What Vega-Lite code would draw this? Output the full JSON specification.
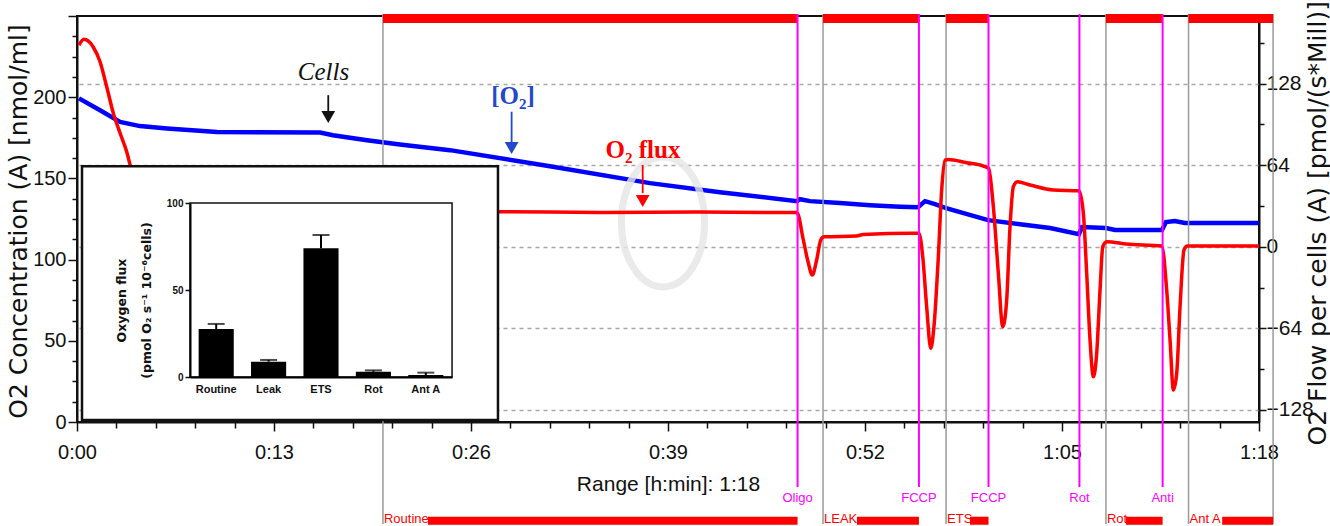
{
  "$schema": "https://vega.github.io/schema/vega-lite/v6.json",
  "width": 1182,
  "height": 406,
  "autosize": {"type": "none"},
  "padding": {"left": 77, "top": 16, "right": 71, "bottom": 104},
  "background": "#ffffff",
  "config": {
    "view": {"stroke": "#111111", "strokeWidth": 2},
    "font": "Liberation Sans",
    "axis": {"domainColor": "#111111", "domainWidth": 2, "tickColor": "#111111", "tickWidth": 1.5, "labelColor": "#111111", "titleColor": "#111111", "grid": false, "labelFont": "Liberation Sans", "titleFontWeight": "normal"}
  },
  "datasets": {
    "o2": [
      {"t": 0.13, "c": 199.3}, {"t": 1.52, "c": 192}, {"t": 2.84, "c": 184.8}, {"t": 4.16, "c": 182.2},
      {"t": 5.94, "c": 180.7}, {"t": 9.24, "c": 178.6}, {"t": 16.04, "c": 178.2}, {"t": 16.89, "c": 176.6},
      {"t": 19.14, "c": 173.5}, {"t": 21.31, "c": 170.9}, {"t": 24.61, "c": 167.4}, {"t": 31.21, "c": 157.5},
      {"t": 37.81, "c": 147.1}, {"t": 42.43, "c": 141.5}, {"t": 47.51, "c": 136}, {"t": 47.71, "c": 137.2},
      {"t": 48.37, "c": 136}, {"t": 50.35, "c": 134.8}, {"t": 52.33, "c": 133.5}, {"t": 54.31, "c": 132.6},
      {"t": 55.5, "c": 132.3}, {"t": 55.96, "c": 136}, {"t": 56.62, "c": 134.2}, {"t": 57.35, "c": 131.7},
      {"t": 60.12, "c": 124.3}, {"t": 62.23, "c": 121.8}, {"t": 64.21, "c": 119.4}, {"t": 66.12, "c": 115.7},
      {"t": 66.32, "c": 120}, {"t": 67.9, "c": 119.4}, {"t": 68.5, "c": 118.2}, {"t": 71.6, "c": 118.2},
      {"t": 71.86, "c": 123.1}, {"t": 72.45, "c": 123.7}, {"t": 73.11, "c": 122.5}, {"t": 78, "c": 122.5}
    ],
    "flux": [
      {"t": 0.13, "v": 158.2}, {"t": 0.46, "v": 162.7}, {"t": 1.06, "v": 156.9}, {"t": 1.52, "v": 145.1},
      {"t": 1.96, "v": 125.5}, {"t": 2.4, "v": 104.6}, {"t": 2.84, "v": 89.2}, {"t": 3.28, "v": 74.5},
      {"t": 3.54, "v": 62.7}, {"t": 4.75, "v": 36.6}, {"t": 7.85, "v": 13}, {"t": 14.85, "v": 13},
      {"t": 16.89, "v": 25}, {"t": 19.86, "v": 27}, {"t": 27.58, "v": 27.2}, {"t": 28.05, "v": 27.5},
      {"t": 34.51, "v": 26.8}, {"t": 41.11, "v": 27.2}, {"t": 47.51, "v": 26.8}, {"t": 47.93, "v": 5.3},
      {"t": 48.26, "v": -12.8}, {"t": 48.52, "v": -22.2}, {"t": 48.81, "v": -10.4}, {"t": 49.08, "v": 5.3},
      {"t": 49.3, "v": 7.8}, {"t": 51.45, "v": 8.4}, {"t": 51.87, "v": 9.6}, {"t": 55.17, "v": 10.5},
      {"t": 55.56, "v": 10.5}, {"t": 55.81, "v": -7.8}, {"t": 56.07, "v": -47.1}, {"t": 56.34, "v": -79.7},
      {"t": 56.55, "v": -62.7}, {"t": 56.84, "v": -7.8}, {"t": 57.06, "v": 44.5}, {"t": 57.28, "v": 68},
      {"t": 57.5, "v": 68.5}, {"t": 58.71, "v": 65.9}, {"t": 59.81, "v": 63.3}, {"t": 60.16, "v": 61.5},
      {"t": 60.47, "v": 31.4}, {"t": 60.8, "v": -20.9}, {"t": 61.09, "v": -62.7}, {"t": 61.35, "v": -41.8},
      {"t": 61.57, "v": 15.7}, {"t": 61.79, "v": 47.1}, {"t": 62.05, "v": 51}, {"t": 62.89, "v": 48.4},
      {"t": 64.43, "v": 44.5}, {"t": 66.12, "v": 43.9}, {"t": 66.41, "v": 26.2}, {"t": 66.63, "v": -20.9},
      {"t": 66.85, "v": -73.2}, {"t": 67.07, "v": -102}, {"t": 67.29, "v": -83.6}, {"t": 67.51, "v": -34},
      {"t": 67.69, "v": 0}, {"t": 67.95, "v": 3.9}, {"t": 69.27, "v": 2.1}, {"t": 71.58, "v": 0.5},
      {"t": 71.91, "v": -34}, {"t": 72.13, "v": -73.2}, {"t": 72.35, "v": -112.4}, {"t": 72.57, "v": -99.3},
      {"t": 72.79, "v": -47.1}, {"t": 73.05, "v": -2.6}, {"t": 73.27, "v": 0.5}, {"t": 78, "v": 0.5}
    ],
    "phases": [
      {"phase": "Routine", "t": 20.19, "t2": 47.55, "tb": 23.16},
      {"phase": "LEAK", "t": 49.23, "t2": 55.56, "tb": 51.47},
      {"phase": "ETS", "t": 57.35, "t2": 60.15, "tb": 58.93},
      {"phase": "Rot", "t": 67.9, "t2": 71.64, "tb": 69.22},
      {"phase": "Ant A", "t": 73.35, "t2": 78.93, "tb": 75.57}
    ],
    "bounds": [{"t": 20.19}, {"t": 49.23}, {"t": 57.35}, {"t": 67.9}, {"t": 73.35}, {"t": 78.93}],
    "events": [
      {"event": "Oligo", "t": 47.55}, {"event": "FCCP", "t": 55.56}, {"event": "FCCP", "t": 60.15},
      {"event": "Rot", "t": 66.15}, {"event": "Anti", "t": 71.64}
    ],
    "notes": [
      {"label": "Cells", "kind": "cells", "t": 16.27, "v": 137.4},
      {"label": "[O₂]", "kind": "o2", "t": 28.77, "v": 118.2},
      {"label": "O₂ flux", "kind": "flux", "t": 37.35, "v": 75.9}
    ],
    "arrows": [
      {"kind": "cells", "t": 16.58, "v1": 118.9, "v2": 105.6, "vh": 101.7},
      {"kind": "o2", "t": 28.68, "v1": 105.9, "v2": 81.1, "vh": 77.4},
      {"kind": "flux", "t": 37.33, "v1": 64.1, "v2": 42, "vh": 35.9}
    ],
    "inset": [
      {"cat": "Routine", "mean": 27.6, "hi": 30.5},
      {"cat": "Leak", "mean": 8.8, "hi": 9.8},
      {"cat": "ETS", "mean": 74, "hi": 81.6},
      {"cat": "Rot", "mean": 3, "hi": 3.8},
      {"cat": "Ant A", "mean": 1.1, "hi": 2.5}
    ]
  },
  "resolve": {"scale": {"x": "independent", "y": "independent", "color": "independent"}, "axis": {"x": "independent", "y": "independent"}},
  "layer": [
    {
      "data": {"name": "o2"},
      "mark": {"type": "line", "color": "#0000ff", "strokeWidth": 4.5},
      "encoding": {
        "x": {
          "field": "t", "type": "quantitative",
          "scale": {"domain": [0, 78], "nice": false, "zero": false},
          "axis": {
            "orient": "bottom",
            "values": [0, 2.6, 5.2, 7.8, 10.4, 13, 15.6, 18.2, 20.8, 23.4, 26, 28.6, 31.2, 33.8, 36.4, 39, 41.6, 44.2, 46.8, 49.4, 52, 54.6, 57.2, 59.8, 62.4, 65, 67.6, 70.2, 72.8, 75.4, 78],
            "labelExpr": "datum.value % 13 === 0 ? (floor(datum.value / 60) + ':' + (round(datum.value % 60) < 10 ? '0' : '') + round(datum.value % 60)) : ''",
            "tickSize": {"condition": {"test": "datum.value % 13 === 0", "value": 9}, "value": 6},
            "labelFontSize": 20, "labelPadding": 11, "labelFlush": false, "labelOverlap": false,
            "title": "Range [h:min]: 1:18",
            "titleFont": "Liberation Sans", "titleFontSize": 21,
            "titleX": 591, "titleY": 62, "titleAlign": "center", "titleBaseline": "middle"
          }
        },
        "y": {
          "field": "c", "type": "quantitative",
          "scale": {"domain": [0, 250], "nice": false, "zero": false},
          "axis": {
            "orient": "left",
            "values": [0, 12.5, 25, 37.5, 50, 62.5, 75, 87.5, 100, 112.5, 125, 137.5, 150, 162.5, 175, 187.5, 200, 212.5, 225, 237.5, 250],
            "labelExpr": "datum.value % 50 === 0 && datum.value < 250 ? datum.label : ''",
            "tickSize": {"condition": {"test": "datum.value % 50 === 0", "value": 9}, "value": 5},
            "labelFontSize": 20, "labelPadding": 2, "labelFlush": false, "labelOverlap": false,
            "title": "O2 Concentration (A) [nmol/ml]",
            "titleFont": "DejaVu Sans", "titleFontSize": 25, "titleAngle": 270,
            "titleX": -59, "titleY": 205, "titleAlign": "center", "titleBaseline": "middle"
          }
        }
      }
    },
    {
      "layer": [
        {
          "data": {"values": [{"t": 38.67, "v": 19.4}]},
          "mark": {"type": "point", "shape": "M0,-1A0.64,1,0,1,1,0,1A0.64,1,0,1,1,0,-1Z", "filled": false, "color": "#e6e6e6", "strokeWidth": 7, "size": 16900, "opacity": 0.8},
          "encoding": {
            "x": {"field": "t", "type": "quantitative", "scale": {"domain": [0, 78], "nice": false, "zero": false}, "axis": null},
            "y": {"field": "v", "type": "quantitative", "scale": {"domain": [-137.5, 181], "nice": false, "zero": false}}
          }
        },
        {
          "data": {"name": "bounds"},
          "mark": {"type": "rule", "color": "#9a9a9a", "strokeWidth": 1.5},
          "encoding": {
            "x": {"field": "t", "type": "quantitative", "scale": {"domain": [0, 78], "nice": false, "zero": false}, "axis": null},
            "y": {"datum": 182.6, "type": "quantitative", "scale": {"domain": [-137.5, 181], "nice": false, "zero": false}},
            "y2": {"datum": -217.5}
          }
        },
        {
          "data": {"name": "flux"},
          "mark": {"type": "line", "color": "#ff0000", "strokeWidth": 3.5, "interpolate": "monotone"},
          "encoding": {
            "x": {"field": "t", "type": "quantitative", "scale": {"domain": [0, 78], "nice": false, "zero": false}, "axis": null},
            "y": {
              "field": "v", "type": "quantitative",
              "scale": {"domain": [-137.5, 181], "nice": false, "zero": false},
              "axis": {
                "orient": "right",
                "values": [-128, -112, -96, -80, -64, -48, -32, -16, 0, 16, 32, 48, 64, 80, 96, 112, 128, 144, 160, 176],
                "labelExpr": "datum.value % 64 === 0 ? datum.label : ''",
                "tickSize": {"condition": {"test": "datum.value % 64 === 0", "value": 7}, "value": 5},
                "labelFontSize": 21, "labelPadding": 0, "labelFlush": false, "labelOverlap": false,
                "grid": true, "gridColor": "#a8a8a8", "gridDash": [4, 4], "gridWidth": 1.5,
                "gridOpacity": {"condition": {"test": "datum.value % 64 === 0", "value": 1}, "value": 0},
                "title": "O2 Flow per cells (A) [pmol/(s*Mill)]",
                "titleFont": "DejaVu Sans", "titleFontSize": 25, "titleAngle": 270,
                "titleX": 58, "titleY": 429, "titleAlign": "left", "titleBaseline": "middle"
              }
            }
          }
        },
        {
          "data": {"name": "phases"},
          "mark": {"type": "rect", "color": "#ff0000"},
          "encoding": {
            "x": {"field": "t", "type": "quantitative", "scale": {"domain": [0, 78], "nice": false, "zero": false}, "axis": null},
            "x2": {"field": "t2"},
            "y": {"datum": 182.6, "type": "quantitative", "scale": {"domain": [-137.5, 181], "nice": false, "zero": false}},
            "y2": {"datum": 175.5}
          }
        },
        {
          "data": {"name": "phases"},
          "mark": {"type": "rect", "color": "#ff0000"},
          "encoding": {
            "x": {"field": "tb", "type": "quantitative", "scale": {"domain": [0, 78], "nice": false, "zero": false}, "axis": null},
            "x2": {"field": "t2"},
            "y": {"datum": -211.8, "type": "quantitative", "scale": {"domain": [-137.5, 181], "nice": false, "zero": false}},
            "y2": {"datum": -218.1}
          }
        },
        {
          "data": {"name": "phases"},
          "mark": {"type": "text", "color": "#ff0000", "font": "Liberation Sans", "fontSize": 13, "align": "left", "baseline": "alphabetic", "dx": 1},
          "encoding": {
            "x": {"field": "t", "type": "quantitative", "scale": {"domain": [0, 78], "nice": false, "zero": false}, "axis": null},
            "y": {"datum": -216.7, "type": "quantitative", "scale": {"domain": [-137.5, 181], "nice": false, "zero": false}},
            "text": {"field": "phase"}
          }
        },
        {
          "data": {"name": "events"},
          "mark": {"type": "rule", "color": "#ff00ff", "strokeWidth": 2},
          "encoding": {
            "x": {"field": "t", "type": "quantitative", "scale": {"domain": [0, 78], "nice": false, "zero": false}, "axis": null},
            "y": {"datum": 182.6, "type": "quantitative", "scale": {"domain": [-137.5, 181], "nice": false, "zero": false}},
            "y2": {"datum": -188.5}
          }
        },
        {
          "data": {"name": "events"},
          "mark": {"type": "text", "color": "#ff00ff", "font": "Liberation Sans", "fontSize": 13, "align": "center", "baseline": "middle"},
          "encoding": {
            "x": {"field": "t", "type": "quantitative", "scale": {"domain": [0, 78], "nice": false, "zero": false}, "axis": null},
            "y": {"datum": -197.1, "type": "quantitative", "scale": {"domain": [-137.5, 181], "nice": false, "zero": false}},
            "text": {"field": "event"}
          }
        },
        {
          "data": {"name": "arrows"},
          "mark": {"type": "rule", "strokeWidth": 1.8},
          "encoding": {
            "x": {"field": "t", "type": "quantitative", "scale": {"domain": [0, 78], "nice": false, "zero": false}, "axis": null},
            "y": {"field": "v1", "type": "quantitative", "scale": {"domain": [-137.5, 181], "nice": false, "zero": false}},
            "y2": {"field": "v2"},
            "color": {"field": "kind", "type": "nominal", "scale": {"domain": ["cells", "o2", "flux"], "range": ["#111111", "#2248cc", "#ff0000"]}, "legend": null}
          }
        },
        {
          "data": {"name": "arrows"},
          "mark": {"type": "point", "shape": "triangle-down", "filled": true, "size": 190, "opacity": 1},
          "encoding": {
            "x": {"field": "t", "type": "quantitative", "scale": {"domain": [0, 78], "nice": false, "zero": false}, "axis": null},
            "y": {"field": "vh", "type": "quantitative", "scale": {"domain": [-137.5, 181], "nice": false, "zero": false}},
            "color": {"field": "kind", "type": "nominal", "scale": {"domain": ["cells", "o2", "flux"], "range": ["#111111", "#2248cc", "#ff0000"]}, "legend": null}
          }
        },
        {
          "data": {"name": "notes"},
          "transform": [{"filter": "datum.kind === 'cells'"}],
          "mark": {"type": "text", "font": "Liberation Serif", "fontStyle": "italic", "fontSize": 25, "color": "#111111", "align": "center", "baseline": "middle"},
          "encoding": {
            "x": {"field": "t", "type": "quantitative", "scale": {"domain": [0, 78], "nice": false, "zero": false}, "axis": null},
            "y": {"field": "v", "type": "quantitative", "scale": {"domain": [-137.5, 181], "nice": false, "zero": false}},
            "text": {"field": "label"}
          }
        },
        {
          "data": {"name": "notes"},
          "transform": [{"filter": "datum.kind !== 'cells'"}],
          "mark": {"type": "text", "font": "Liberation Serif", "fontWeight": "bold", "fontSize": 25, "align": "center", "baseline": "middle"},
          "encoding": {
            "x": {"field": "t", "type": "quantitative", "scale": {"domain": [0, 78], "nice": false, "zero": false}, "axis": null},
            "y": {"field": "v", "type": "quantitative", "scale": {"domain": [-137.5, 181], "nice": false, "zero": false}},
            "text": {"field": "label"},
            "color": {"field": "kind", "type": "nominal", "scale": {"domain": ["cells", "o2", "flux"], "range": ["#111111", "#2248cc", "#ff0000"]}, "legend": null}
          }
        }
      ]
    },
    {
      "data": {"values": [{}]},
      "layer": [
        {
          "mark": {"type": "rect", "fill": "#ffffff", "stroke": "#111111", "strokeWidth": 2.5},
          "encoding": {
            "x": {"datum": 0.33, "type": "quantitative", "scale": {"domain": [0, 78], "nice": false, "zero": false}, "axis": null},
            "x2": {"datum": 27.78},
            "y": {"datum": 157.5, "type": "quantitative", "scale": {"domain": [0, 250], "nice": false, "zero": false}, "axis": null},
            "y2": {"datum": 1.2}
          }
        },
        {
          "mark": {"type": "rect", "fillOpacity": 0, "stroke": "#111111", "strokeWidth": 1.5},
          "encoding": {
            "x": {"datum": 7.46, "type": "quantitative", "scale": {"domain": [0, 78], "nice": false, "zero": false}, "axis": null},
            "x2": {"datum": 24.75},
            "y": {"datum": 134.8, "type": "quantitative", "scale": {"domain": [0, 250], "nice": false, "zero": false}, "axis": null},
            "y2": {"datum": 27.7}
          }
        }
      ]
    },
    {
      "data": {"name": "inset"},
      "encoding": {
        "x": {
          "field": "cat", "type": "nominal", "sort": null,
          "scale": {"range": [113, 375], "paddingInner": 0.33, "paddingOuter": 0.165},
          "axis": {"orient": "bottom", "offset": -45, "ticks": false, "domainColor": "#000000", "domainWidth": 2, "labelFont": "Liberation Sans", "labelFontWeight": "bold", "labelFontSize": 11, "labelPadding": 6, "labelAngle": 0, "labelColor": "#111111", "title": null, "zindex": 1}
        }
      },
      "layer": [
        {
          "mark": {"type": "rule", "color": "#000000", "strokeWidth": 2},
          "encoding": {
            "y": {
              "field": "mean", "type": "quantitative",
              "scale": {"domain": [0, 100], "range": [361, 187], "nice": false, "zero": false},
              "axis": {
                "orient": "left", "offset": -113, "values": [0, 50, 100], "tickSize": 5, "domainColor": "#000000", "domainWidth": 2,
                "labelFont": "Liberation Sans", "labelFontWeight": "bold", "labelFontSize": 10, "labelPadding": 2, "labelColor": "#111111",
                "title": ["Oxygen flux", "(pmol O₂ s⁻¹ 10⁻⁶cells)"],
                "titleFont": "DejaVu Sans", "titleFontWeight": "bold", "titleFontSize": 12.5, "titleLineHeight": 25,
                "titleAngle": 270, "titleX": -69, "titleY": 284, "titleAlign": "center", "titleBaseline": "middle", "zindex": 1
              }
            },
            "y2": {"field": "hi"}
          }
        },
        {
          "mark": {"type": "tick", "orient": "horizontal", "color": "#000000", "size": 17, "thickness": 2},
          "encoding": {
            "y": {"field": "hi", "type": "quantitative", "scale": {"domain": [0, 100], "range": [361, 187], "nice": false, "zero": false}}
          }
        },
        {
          "mark": {"type": "bar", "color": "#000000"},
          "encoding": {
            "y": {"field": "mean", "type": "quantitative", "scale": {"domain": [0, 100], "range": [361, 187], "nice": false, "zero": false}},
            "y2": {"datum": 0}
          }
        }
      ]
    }
  ]
}
